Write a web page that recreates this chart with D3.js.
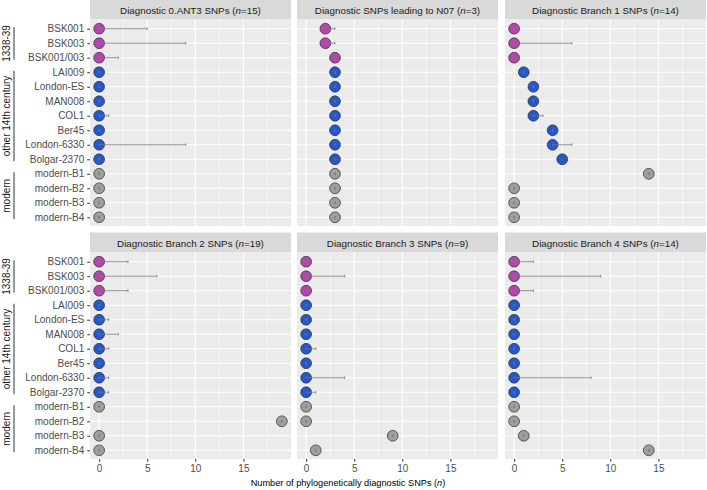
<!DOCTYPE html>
<html><head><meta charset="utf-8">
<script src="https://cdn.jsdelivr.net/npm/d3@7"></script>
<style>body{margin:0;background:#fff}svg{display:block;font-family:"Liberation Sans",Arial,sans-serif}</style>
</head><body><svg id="c" width="707" height="490"></svg>
<script>
const samples = ["BSK001","BSK003","BSK001/003","LAI009","London-ES","MAN008","COL1","Ber45","London-6330","Bolgar-2370","modern-B1","modern-B2","modern-B3","modern-B4"];
const sampleGroup = ["1338-39","1338-39","1338-39","other","other","other","other","other","other","other","modern","modern","modern","modern"];
const groupKeys = ["1338-39","other","modern"];
const groupLabels = ["1338-39","other 14th century","modern"];
const groupColors = ["#B546AD","#2458CC","#9E9E9E"];
const panelTitles = ["Diagnostic 0.ANT3 SNPs","Diagnostic SNPs leading to N07","Diagnostic Branch 1 SNPs","Diagnostic Branch 2 SNPs","Diagnostic Branch 3 SNPs","Diagnostic Branch 4 SNPs"];
const panelN = [15,3,14,19,9,14];
const values0 = [0,0,0,0,0,0,0,0,0,0,0,0,0,0];
const upper0  = [5,9,2,0,0,0,1,0,9,0,0,0,0,0];
const values1 = [2,2,3,3,3,3,3,3,3,3,3,3,3,3];
const upper1  = [3,3,3,3,3,3,3,3,3,3,3,3,3,3];
const values2 = [0,0,0,1,2,2,2,4,4,5,14,0,0,0];
const upper2  = [0,6,0,1,2,2,3,4,6,5,14,0,0,0];
const values3 = [0,0,0,0,0,0,0,0,0,0,0,19,0,0];
const upper3  = [3,6,3,0,1,2,1,0,1,1,0,19,0,0];
const values4 = [0,0,0,0,0,0,0,0,0,0,0,0,9,1];
const upper4  = [0,4,0,0,0,0,1,0,4,1,0,0,9,1];
const values5 = [0,0,0,0,0,0,0,0,0,0,0,0,1,14];
const upper5  = [2,9,2,0,0,0,0,0,8,0,0,0,1,14];
const xTicks = [0,5,10,15];
const xMinor = [2.5,7.5,12.5,17.5];
const xTitle = "Number of phylogenetically diagnostic SNPs (";

const panelValues = [values0,values1,values2,values3,values4,values5];
const panelUpper = [upper0,upper1,upper2,upper3,upper4,upper5];

const svg = d3.select("#c");
const colX = [90, 297, 505], panelW = 201;
const rowY = [20, 253], panelH = 206, stripH = 20;
const color = d3.scaleOrdinal().domain(groupKeys).range(groupColors);

panelTitles.forEach((title, i) => {
  const col = i % 3, row = Math.floor(i / 3);
  const x0 = colX[col], y0 = rowY[row];
  const x = d3.scaleLinear().domain([-0.95, 19.95]).range([x0, x0 + panelW]);
  const y = d3.scalePoint().domain(samples).range([y0, y0 + panelH]).padding(0.6);
  const g = svg.append("g");
  g.append("rect").attr("x", x0).attr("y", y0 - stripH - 0.5).attr("width", panelW).attr("height", stripH).attr("fill", "#D9D9D9");
  const st = g.append("text").attr("x", x0 + panelW / 2).attr("y", y0 - stripH / 2 + 3.5).attr("text-anchor", "middle")
    .attr("font-size", 9.8).attr("fill", "#1A1A1A");
  st.append("tspan").text(title + " (");
  st.append("tspan").attr("font-style", "italic").text("n");
  st.append("tspan").text("=" + panelN[i] + ")");
  g.append("rect").attr("x", x0).attr("y", y0).attr("width", panelW).attr("height", panelH).attr("fill", "#EBEBEB");
  g.selectAll(".mn").data(xMinor).join("line").attr("x1", d => x(d)).attr("x2", d => x(d))
    .attr("y1", y0).attr("y2", y0 + panelH).attr("stroke", "#fff").attr("stroke-width", 0.55);
  g.selectAll(".mj").data(xTicks).join("line").attr("x1", d => x(d)).attr("x2", d => x(d))
    .attr("y1", y0).attr("y2", y0 + panelH).attr("stroke", "#fff").attr("stroke-width", 1.1);
  g.selectAll(".hy").data(samples).join("line").attr("x1", x0).attr("x2", x0 + panelW)
    .attr("y1", d => y(d)).attr("y2", d => y(d)).attr("stroke", "#fff").attr("stroke-width", 1.1);
  if (col === 0) {
    const ay = g.append("g").attr("transform", `translate(${x0},0)`)
      .call(d3.axisLeft(y).tickSize(2.75).tickPadding(3));
    ay.select(".domain").remove();
    ay.selectAll("line").attr("stroke", "#333").attr("stroke-width", 1);
    ay.selectAll("text").attr("font-size", 10).attr("fill", "#4D4D4D").attr("font-family", "Liberation Sans, Arial, sans-serif");
    groupKeys.forEach((gk, k) => {
      const members = samples.filter((s, j) => sampleGroup[j] === gk);
      const ya = y(members[0]) - 1.5, yb = y(members[members.length - 1]) + 2;
      g.append("line").attr("x1", 14).attr("x2", 14).attr("y1", ya).attr("y2", yb).attr("stroke", "#000").attr("stroke-width", 0.8);
      g.append("text").attr("transform", `translate(10,${(ya + yb) / 2}) rotate(-90)`).attr("text-anchor", "middle")
        .attr("font-size", 10).attr("fill", "#1A1A1A").text(groupLabels[k]);
    });
  }
  if (row === 1) {
    const ax = g.append("g").attr("transform", `translate(0,${y0 + panelH})`)
      .call(d3.axisBottom(x).tickValues(xTicks).tickSize(2.75).tickPadding(3));
    ax.select(".domain").remove();
    ax.selectAll("line").attr("stroke", "#333").attr("stroke-width", 1);
    ax.selectAll("text").attr("font-size", 10).attr("fill", "#4D4D4D").attr("font-family", "Liberation Sans, Arial, sans-serif");
  }
  const data = samples.map((s, j) => ({ s, v: panelValues[i][j], u: panelUpper[i][j], grp: sampleGroup[j] }));
  g.selectAll(".pt").data(data).join("circle").attr("cx", d => x(d.v)).attr("cy", d => y(d.s)).attr("r", 5.4)
    .attr("fill", d => color(d.grp)).attr("stroke", "#2B2B2B").attr("stroke-width", 0.7);
  const eb = g.selectAll(".eb").data(data).join("g").attr("stroke", "#777").attr("stroke-width", 0.8);
  eb.append("line").attr("x1", d => x(d.v)).attr("x2", d => x(d.u)).attr("y1", d => y(d.s)).attr("y2", d => y(d.s));
  eb.append("line").attr("x1", d => x(d.v)).attr("x2", d => x(d.v)).attr("y1", d => y(d.s) - 1.3).attr("y2", d => y(d.s) + 1.3);
  eb.append("line").attr("x1", d => x(d.u)).attr("x2", d => x(d.u)).attr("y1", d => y(d.s) - 1.3).attr("y2", d => y(d.s) + 1.3);
});

const tt = svg.append("text").attr("x", 348).attr("y", 486).attr("text-anchor", "middle").attr("font-size", 9.2).attr("fill", "#000");
tt.append("tspan").text(xTitle);
tt.append("tspan").attr("font-style", "italic").text("n");
tt.append("tspan").text(")");
</script></body></html>
